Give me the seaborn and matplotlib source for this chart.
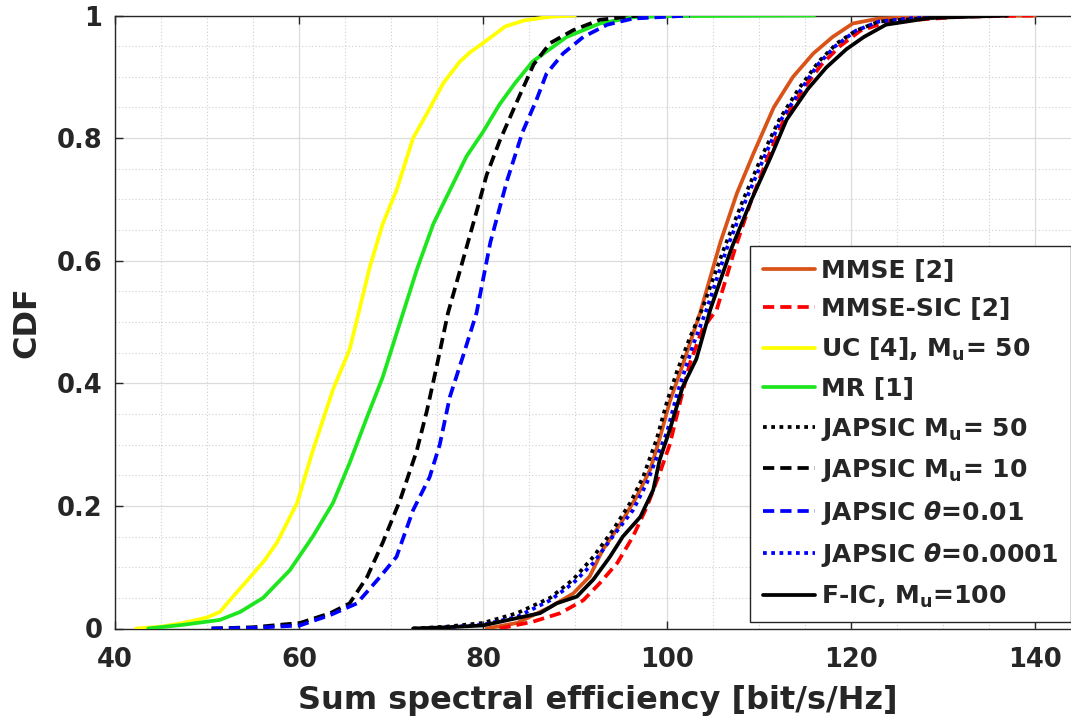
import numpy as np
import pandas as pd
import seaborn as sns
import matplotlib
matplotlib.use("Agg")
import matplotlib.pyplot as plt
from matplotlib.ticker import MultipleLocator

# ---------------- data ----------------
uc_x = [42.3, 45.0, 47.4, 50.0, 51.4, 53.0, 54.7, 56.2, 57.6, 59.8, 61.5, 63.7, 65.5, 66.4, 67.7,
        69.1, 70.6, 72.4, 73.9, 75.7, 77.5, 78.6, 80.0, 82.4, 84.5, 87.3, 90.0]
uc_y = [0.0, 0.003, 0.009, 0.018, 0.027, 0.055, 0.084, 0.11, 0.14, 0.205, 0.29, 0.39, 0.455, 0.51, 0.59,
        0.66, 0.715, 0.80, 0.84, 0.89, 0.925, 0.94, 0.955, 0.982, 0.992, 0.998, 1.0]

mr_x = [43.6, 47.4, 51.4, 53.6, 56.1, 59.0, 61.5, 63.7, 65.5, 67.4, 69.1, 71.0, 72.8, 74.6, 76.4,
        78.2, 80.0, 81.8, 83.5, 85.4, 89.1, 92.7, 96.3, 100.0, 116.0]
mr_y = [0.0, 0.006, 0.014, 0.027, 0.05, 0.095, 0.15, 0.205, 0.27, 0.345, 0.41, 0.50, 0.585, 0.66, 0.715,
        0.77, 0.81, 0.855, 0.89, 0.925, 0.965, 0.987, 0.997, 0.999, 1.0]

jm10_x = [50.5, 55.0, 60.1, 63.4, 65.5, 67.4, 69.1, 71.0, 72.8, 73.9, 75.0, 76.2, 77.8, 79.3, 80.4,
          81.8, 83.7, 85.5, 87.3, 89.8, 92.7, 96.3, 98.0]
jm10_y = [0.0, 0.002, 0.009, 0.025, 0.041, 0.084, 0.14, 0.21, 0.29, 0.355, 0.43, 0.515, 0.60, 0.68, 0.74,
          0.795, 0.86, 0.92, 0.955, 0.976, 0.993, 0.999, 1.0]

jt01_x = [50.5, 55.0, 60.1, 63.4, 66.3, 68.8, 70.6, 72.4, 74.2, 75.3, 76.4, 77.8, 79.3, 80.8, 82.6,
          84.3, 85.8, 86.9, 88.7, 90.9, 93.5, 96.3, 102.5]
jt01_y = [0.0, 0.001, 0.005, 0.022, 0.041, 0.084, 0.117, 0.193, 0.247, 0.30, 0.378, 0.443, 0.515, 0.63, 0.73,
          0.81, 0.862, 0.905, 0.938, 0.965, 0.985, 0.995, 1.0]

mmse_x = [80.4, 83.7, 87.3, 89.8, 91.6, 93.0, 94.9, 96.7, 98.2, 99.2, 100.3, 101.7, 103.6, 105.8, 107.6,
          109.4, 111.6, 113.7, 115.9, 118.0, 120.2, 123.0, 130.0, 140.0]
mmse_y = [0.0, 0.009, 0.035, 0.057, 0.085, 0.128, 0.17, 0.215, 0.26, 0.31, 0.37, 0.43, 0.515, 0.63, 0.71,
          0.775, 0.85, 0.90, 0.938, 0.965, 0.987, 0.995, 0.999, 1.0]

sic_x = [81.8, 85.4, 88.4, 90.9, 92.7, 94.6, 96.3, 97.8, 99.2, 100.3, 101.4, 102.5, 103.9, 105.4, 107.4,
         109.2, 111.0, 112.7, 114.8, 116.8, 118.8, 121.0, 124.0, 132.0, 140.0]
sic_y = [0.0, 0.011, 0.025, 0.046, 0.074, 0.107, 0.15, 0.198, 0.253, 0.30, 0.368, 0.433, 0.49, 0.52, 0.62,
         0.70, 0.77, 0.83, 0.88, 0.92, 0.95, 0.975, 0.99, 0.998, 1.0]

jm50_x = [72.4, 76.0, 80.0, 83.7, 87.3, 89.8, 92.0, 94.1, 96.0, 97.4, 98.9, 100.0, 101.1, 102.5, 103.8,
          106.2, 108.3, 110.3, 112.2, 114.3, 116.5, 118.5, 120.5, 123.0, 130.0, 137.0]
jm50_y = [0.0, 0.003, 0.009, 0.025, 0.05, 0.08, 0.117, 0.16, 0.205, 0.247, 0.31, 0.37, 0.42, 0.475, 0.52,
          0.62, 0.70, 0.77, 0.83, 0.88, 0.925, 0.955, 0.975, 0.99, 0.998, 1.0]

jt0001_x = [74.0, 80.0, 83.7, 87.3, 89.8, 92.0, 94.1, 96.3, 97.8, 98.9, 100.0, 101.1, 102.9, 104.3, 106.5,
            108.6, 110.6, 112.4, 114.6, 116.4, 118.3, 120.5, 123.0, 128.0, 136.0]
jt0001_y = [0.0, 0.006, 0.019, 0.046, 0.074, 0.107, 0.15, 0.193, 0.237, 0.28, 0.32, 0.383, 0.465, 0.52, 0.62,
            0.70, 0.77, 0.83, 0.88, 0.92, 0.95, 0.975, 0.99, 0.998, 1.0]

fic_x = [72.4, 76.0, 80.0, 83.7, 86.2, 88.0, 90.2, 92.0, 93.8, 95.2, 97.1, 98.5, 99.2, 100.3, 101.7,
         103.2, 104.7, 107.0, 109.2, 111.3, 113.0, 115.3, 117.3, 119.5, 121.4, 123.8, 128.6, 137.0]
fic_y = [0.0, 0.002, 0.005, 0.017, 0.025, 0.041, 0.052, 0.08, 0.117, 0.15, 0.182, 0.226, 0.275, 0.324, 0.394,
         0.44, 0.52, 0.62, 0.70, 0.77, 0.83, 0.88, 0.915, 0.945, 0.965, 0.985, 0.996, 1.0]

labels = ["MMSE [2]", "MMSE-SIC [2]", r"UC [4], M$_{\mathbf{u}}$= 50", "MR [1]",
          r"JAPSIC M$_{\mathbf{u}}$= 50", r"JAPSIC M$_{\mathbf{u}}$= 10",
          r"JAPSIC $\theta$=0.01", r"JAPSIC $\theta$=0.0001", r"F-IC, M$_{\mathbf{u}}$=100"]

x_ticks = [40, 60, 80, 100, 120, 140]
y_ticks = [0, 0.2, 0.4, 0.6, 0.8, 1.0]
y_ticklabels = ["0", "0.2", "0.4", "0.6", "0.8", "1"]

# ---------------- style ----------------
sns.set_style("ticks")
plt.rcParams["font.family"] = ["DejaVu Sans"]
plt.rcParams["font.weight"] = "bold"
plt.rcParams["mathtext.fontset"] = "dejavusans"

fig = plt.figure(figsize=(10.71, 7.21), dpi=100)
ax = fig.add_axes([115 / 1071, 1 - 628.5 / 721, 966 / 1071, 613 / 721])

series = [
    (mmse_x, mmse_y, "#D95319", "-", 2.7),
    (sic_x, sic_y, "#FF0000", (0, (3.0, 1.6)), 2.7),
    (uc_x, uc_y, "#FFFF00", "-", 2.7),
    (mr_x, mr_y, "#1EE61E", "-", 2.7),
    (jm50_x, jm50_y, "#000000", (0, (1.0, 1.2)), 2.7),
    (jm10_x, jm10_y, "#000000", (0, (3.0, 1.6)), 2.7),
    (jt01_x, jt01_y, "#0000FF", (0, (3.0, 1.6)), 2.7),
    (jt0001_x, jt0001_y, "#0000FF", (0, (1.0, 1.2)), 2.7),
    (fic_x, fic_y, "#000000", "-", 2.7),
]

for (xs, ys, col, ls, lw), lab in zip(series, labels):
    df = pd.DataFrame({"x": xs, "y": ys})
    sns.lineplot(data=df, x="x", y="y", ax=ax, color=col, linestyle=ls, linewidth=lw,
                 label=lab, estimator=None, sort=False, zorder=3)

ax.set_xlim(40, 145)
ax.set_ylim(0, 1)
ax.set_xticks(x_ticks)
ax.set_xticklabels([str(v) for v in x_ticks])
ax.set_yticks(y_ticks)
ax.set_yticklabels(y_ticklabels)
ax.xaxis.set_minor_locator(MultipleLocator(5))
ax.yaxis.set_minor_locator(MultipleLocator(0.05))

ax.grid(which="major", color="#dcdcdc", linewidth=0.9, linestyle="-", zorder=0)
ax.grid(which="minor", color="#cfcfcf", linewidth=0.8, linestyle=(0, (1, 2)), zorder=0)
ax.set_axisbelow(True)

ax.tick_params(which="major", direction="in", length=6, width=1, top=True, right=True,
               labelsize=18.5, colors="#262626", pad=9)
ax.tick_params(axis="x", which="major", pad=13)
ax.tick_params(which="minor", length=0, top=True, right=True)
for lbl in ax.get_xticklabels() + ax.get_yticklabels():
    lbl.set_fontweight("bold")
for s in ax.spines.values():
    s.set_color("#262626")
    s.set_linewidth(1.0)

ax.set_xlabel("Sum spectral efficiency [bit/s/Hz]", fontsize=23, fontweight="bold", color="#262626", labelpad=9)
ax.set_ylabel("CDF", fontsize=23, fontweight="bold", color="#262626", labelpad=10)

leg = ax.legend(loc="upper left", bbox_to_anchor=(750 / 1071, 1 - 246 / 721),
                bbox_transform=fig.transFigure, frameon=True, fancybox=False,
                framealpha=1, edgecolor="#262626", prop={"size": 18, "weight": "bold"},
                handlelength=2.1, handletextpad=0.25, labelspacing=0.58, borderpad=0.5,
                borderaxespad=0)
leg.get_frame().set_linewidth(1.0)

fig.savefig("out.png", dpi=100)
